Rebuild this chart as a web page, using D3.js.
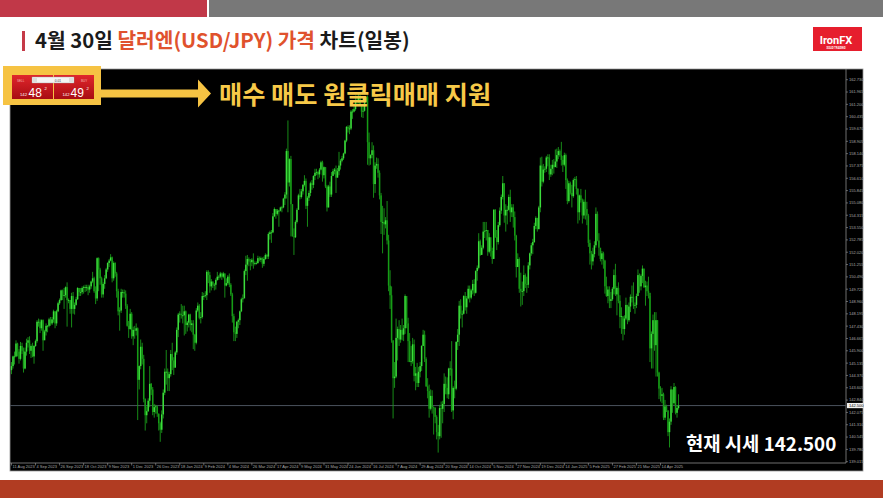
<!DOCTYPE html>
<html><head><meta charset="utf-8">
<script src="https://cdn.jsdelivr.net/npm/d3@7"></script>
<style>body{margin:0;background:#fff;} svg{display:block}</style>
</head><body><svg id="c" width="883" height="498"></svg>
<script>
// USD/JPY daily, 11 Aug 2023 .. 30 Apr 2025 (one row per week)
const firstOpen = 144.70;
const closes = [
144.95,
145.55,145.55,146.35,145.85,145.40,
146.20,145.90,144.80,145.85,146.40,
146.55,145.90,146.20,145.55,146.20,
146.50,147.70,147.70,147.30,147.80,
146.55,147.10,147.45,147.45,147.85,
147.60,147.85,148.35,147.60,148.35,
148.85,149.05,149.65,149.30,149.35,
149.85,149.05,149.05,148.50,149.30,
148.50,148.75,149.10,149.80,149.55,
149.55,149.80,149.85,149.85,149.85,
149.70,149.90,150.20,150.40,149.60,
149.15,151.65,150.95,150.40,149.40,
150.05,150.40,150.95,151.35,151.50,
151.70,150.40,151.35,150.70,149.60,
148.35,148.40,149.55,149.55,149.45,
148.70,147.45,147.25,148.20,146.80,
147.20,147.15,147.30,144.10,144.95,
146.15,145.40,142.90,141.90,142.15,
142.80,143.85,143.50,142.10,142.40,
142.45,142.00,141.40,141.00,
141.95,143.30,144.60,144.60,
144.20,144.45,145.70,145.30,144.85,
145.80,147.20,148.15,148.20,148.10,
148.10,148.35,147.50,147.65,148.15,
147.50,147.60,146.90,146.40,148.40,
148.70,147.95,148.00,149.30,149.30,
149.35,150.80,150.60,149.90,150.20,
150.00,150.00,150.30,150.50,150.50,
150.70,150.50,150.70,149.95,150.10,
150.50,150.00,149.40,148.05,147.05,
146.95,147.70,147.80,148.35,149.10,
149.15,150.85,151.25,151.60,151.45,
151.40,151.55,151.30,151.35,151.35,
151.65,151.55,151.65,151.30,151.60,
151.85,151.75,153.15,153.25,153.25,
154.25,154.70,154.40,154.60,154.60,
154.80,154.80,155.35,155.60,158.30,
156.35,157.80,155.00,153.00,152.95,
153.90,154.65,155.55,155.45,155.80,
156.20,156.45,154.90,155.40,155.70,
156.30,156.20,156.75,156.95,157.00,
156.85,157.15,157.60,156.80,157.30,
156.10,154.80,156.10,155.60,156.75,
157.05,157.15,156.65,157.05,157.40,
157.70,157.85,158.15,158.95,159.80,
159.70,159.70,160.75,160.75,160.90,
161.45,161.45,161.70,161.20,160.75,
160.80,161.35,161.65,158.85,157.85,
158.05,158.35,156.25,157.40,157.50,
156.95,155.55,153.90,153.90,153.75,
154.00,152.75,149.95,149.35,146.55,
144.20,144.30,146.70,147.25,146.60,
147.20,146.90,147.30,149.30,147.60,
146.50,145.20,145.25,146.30,144.35,
144.50,143.90,144.60,144.95,146.20,
146.90,145.40,143.70,143.40,142.30,
143.10,142.40,142.35,141.80,140.85,
140.60,142.35,142.30,142.60,143.85,
143.60,143.20,144.80,144.80,142.20,
143.60,143.55,146.45,146.90,148.70,
148.20,148.20,149.30,148.60,149.15,
149.75,149.20,149.65,150.05,149.50,
150.85,151.05,152.70,151.85,152.30,
153.30,153.35,153.40,152.05,152.95,
152.10,151.60,154.65,152.95,152.65,
153.70,154.60,155.45,156.30,154.30,
154.65,154.65,155.45,154.50,154.80,
154.20,153.05,151.10,151.60,149.75,
149.60,149.60,150.60,150.05,150.00,
151.20,151.95,152.45,152.65,153.65,
154.15,153.45,154.80,157.40,156.40,
157.15,157.20,157.90,157.90,
156.85,157.20,157.45,157.30,
157.65,158.05,158.30,158.05,157.75,
157.45,158.05,156.50,155.20,156.30,
155.70,155.50,156.50,156.55,155.95,
154.50,155.55,155.25,154.30,155.15,
154.70,154.30,152.60,151.95,151.45,
151.90,152.45,154.40,152.75,152.30,
151.60,151.95,151.50,149.90,149.30,
149.70,149.00,149.10,149.75,150.60,
149.40,149.80,149.00,148.00,148.05,
147.25,147.90,148.75,147.80,148.65,
149.25,149.25,148.70,148.75,149.30,
150.60,149.90,150.55,151.00,149.85,
149.95,149.60,149.50,146.05,146.95,
147.80,146.25,147.80,144.55,143.55,
143.10,143.20,141.75,142.45,142.20,
140.85,141.50,143.50,142.65,143.65,
142.05,142.35,142.50
];
const highs = [
145.20,
145.60,145.85,146.55,146.40,146.00,
146.45,146.40,146.10,146.10,146.65,
146.75,146.80,146.30,146.40,146.25,
146.60,147.80,147.90,147.85,147.85,
147.85,147.20,147.60,147.50,147.95,
148.00,148.00,148.45,148.35,148.45,
148.95,149.15,149.70,149.70,149.80,
149.90,150.15,149.15,149.05,149.50,
149.55,148.90,149.25,149.85,149.80,
149.80,149.90,149.95,150.00,150.00,
150.00,150.00,150.25,150.80,150.50,
149.90,151.70,151.70,151.05,150.50,
150.15,150.60,151.05,151.40,151.60,
151.90,151.75,151.45,151.40,150.80,
149.75,148.60,149.75,149.70,149.70,
149.65,148.80,147.75,148.50,148.30,
147.40,147.45,147.60,147.35,145.00,
146.60,146.40,145.65,142.95,142.45,
142.95,144.95,143.90,143.65,142.60,
142.55,142.50,142.00,141.50,
142.20,143.50,144.80,145.95,
144.80,144.60,145.95,146.40,145.50,
145.90,147.35,148.25,148.35,148.80,
148.70,148.70,148.40,147.75,148.20,
148.20,147.80,147.80,146.95,148.55,
148.90,148.80,148.30,149.55,149.50,
149.60,150.90,150.90,150.80,150.35,
150.20,150.10,150.40,150.80,150.60,
150.80,150.75,150.80,150.70,150.40,
150.60,150.70,150.10,149.50,148.20,
147.40,147.75,147.90,148.40,149.20,
149.40,150.95,151.80,151.85,151.70,
151.60,151.65,151.95,151.45,151.45,
151.80,151.75,151.75,151.70,151.75,
151.95,151.90,153.25,153.35,153.40,
154.45,154.80,154.70,154.70,154.65,
154.85,154.90,155.40,155.75,158.45,
160.20,157.85,158.00,155.00,153.50,
154.00,154.75,155.65,155.95,155.95,
156.25,156.80,156.60,155.50,155.85,
156.40,156.50,156.80,157.20,157.20,
157.05,157.25,157.70,157.70,157.35,
157.30,156.20,156.20,156.40,157.00,
157.20,157.25,157.40,157.25,158.25,
157.80,158.00,158.20,159.00,159.85,
159.90,159.90,160.85,160.90,161.25,
161.75,161.75,161.95,161.80,161.20,
161.15,161.40,161.70,161.75,159.45,
158.10,158.85,158.65,157.60,157.90,
157.85,157.10,155.70,154.90,154.75,
154.20,155.20,153.10,150.90,149.90,
146.55,145.20,147.90,147.40,147.80,
147.50,147.90,147.50,149.40,149.15,
147.95,147.00,146.20,146.70,146.60,
144.90,145.15,144.90,145.20,146.25,
147.20,147.15,145.50,144.20,143.80,
143.50,143.45,142.45,142.40,141.90,
141.30,142.55,142.75,142.80,144.50,
144.30,144.25,144.85,145.25,146.50,
143.70,144.05,146.50,147.25,149.00,
149.10,148.40,149.35,149.55,149.30,
149.95,149.95,149.75,150.30,150.35,
150.90,151.20,153.20,152.80,152.45,
153.90,153.90,153.90,153.40,153.20,
152.40,152.30,154.70,154.70,153.40,
153.90,154.80,155.60,156.75,156.30,
155.00,154.90,155.60,155.90,155.00,
155.00,154.55,153.10,151.95,151.70,
150.75,150.20,151.20,150.70,150.50,
151.40,152.00,152.60,152.85,153.85,
154.25,154.15,154.90,157.90,157.95,
157.50,157.35,158.00,158.10,
158.10,157.45,157.75,157.80,
158.40,158.45,158.55,158.40,158.87,
158.00,158.20,158.15,156.60,156.45,
156.40,156.20,156.60,156.70,156.75,
156.00,155.60,155.95,155.35,155.30,
155.90,155.15,154.40,152.80,152.10,
152.30,152.70,154.80,154.55,153.20,
152.00,152.10,152.05,151.55,150.50,
149.90,149.90,149.55,149.85,150.95,
151.30,149.90,150.15,149.35,148.60,
147.90,148.10,149.20,148.75,148.90,
149.40,149.95,150.15,148.90,149.45,
150.95,150.70,150.65,151.20,151.00,
150.25,150.20,150.50,149.30,147.10,
148.15,148.30,148.30,147.80,144.60,
143.70,143.60,143.30,142.85,142.55,
142.20,141.70,143.70,143.40,143.90,
143.70,142.50,143.20
];
const lows = [
144.45,
144.80,145.05,145.50,145.55,145.10,
145.30,145.70,144.55,144.75,145.60,
146.10,145.70,145.45,145.50,145.10,
146.15,146.40,147.40,147.00,147.15,
145.90,146.60,146.85,147.05,147.35,
147.45,147.50,147.65,147.30,147.45,
148.30,148.75,149.00,149.05,148.50,
149.20,147.40,148.85,148.20,147.35,
148.20,148.15,148.70,149.05,149.30,
149.30,149.40,149.45,149.55,149.60,
149.35,149.50,149.75,150.10,149.50,
148.80,149.00,149.60,150.00,149.20,
149.20,149.75,150.35,150.80,151.10,
151.45,150.15,150.25,150.50,149.20,
148.10,147.15,148.25,149.20,149.20,
148.50,147.40,146.70,147.20,146.65,
146.25,146.65,146.85,141.60,143.50,
144.75,145.05,142.70,140.95,141.40,
142.10,142.40,143.15,141.90,141.75,
142.00,141.80,140.95,140.25,
140.80,141.70,143.15,143.80,
143.40,143.40,144.30,144.70,144.40,
144.95,145.65,146.75,147.65,147.90,
147.60,146.85,146.95,147.10,147.35,
147.15,147.05,146.00,145.90,146.30,
148.30,147.85,147.60,147.90,149.05,
149.20,149.05,150.10,149.50,149.65,
149.80,149.65,149.70,150.25,150.30,
150.40,150.30,150.40,149.20,149.90,
150.00,149.85,149.30,147.65,146.50,
146.50,146.70,147.30,147.50,148.30,
148.90,149.30,150.60,150.25,151.15,
150.90,151.15,151.00,151.20,151.25,
151.30,151.45,151.40,151.05,151.15,
151.55,151.60,151.60,152.80,152.60,
153.20,154.20,154.10,154.30,153.60,
154.55,154.50,154.75,154.95,155.35,
154.50,156.10,153.00,153.00,151.85,
152.90,153.80,154.70,155.30,155.35,
155.60,156.10,154.70,153.60,155.20,
155.50,155.90,156.00,156.50,156.80,
156.55,156.65,157.10,156.40,156.60,
156.00,154.55,154.80,155.45,155.45,
156.80,156.85,155.70,156.65,156.80,
157.15,157.60,157.75,158.10,158.85,
159.45,159.35,159.60,160.30,160.70,
160.80,161.15,161.25,161.15,160.40,
160.35,160.75,161.30,157.45,157.40,
157.45,157.85,155.40,155.70,157.20,
156.65,155.30,153.15,151.95,153.10,
153.50,152.50,149.60,148.50,146.40,
141.70,143.60,144.20,145.30,146.20,
146.40,146.55,146.50,146.95,147.30,
145.20,145.20,144.95,145.10,144.00,
143.45,143.65,143.65,144.25,144.65,
146.20,145.20,143.65,142.95,141.75,
142.20,142.00,140.70,141.40,140.40,
139.58,140.40,140.50,141.40,142.10,
143.20,142.95,142.90,144.35,142.10,
141.65,142.95,143.45,145.95,146.20,
147.90,147.35,148.15,148.40,148.20,
149.10,148.90,149.10,149.40,149.30,
149.45,150.25,150.95,151.80,151.90,
152.20,152.90,152.75,151.80,151.95,
151.75,151.30,151.65,152.90,152.15,
152.50,153.60,154.40,155.30,153.85,
153.30,153.75,154.60,153.90,154.20,
153.55,152.75,150.45,151.10,149.50,
148.65,148.75,149.30,149.80,149.50,
149.80,150.95,151.80,151.90,152.60,
153.45,153.30,153.45,154.50,156.10,
156.30,156.95,157.00,157.35,
156.50,156.70,156.80,156.90,
157.35,157.25,157.80,157.95,157.40,
157.00,157.35,155.95,155.00,155.10,
155.60,154.80,155.40,156.10,155.60,
153.80,154.00,155.10,153.80,154.10,
154.05,153.70,152.35,151.25,150.95,
151.20,151.70,152.30,152.70,151.80,
151.45,151.25,151.00,149.45,149.25,
148.85,148.55,148.55,149.00,149.40,
149.30,148.10,148.85,147.30,146.95,
146.55,146.90,147.80,147.55,147.70,
148.30,148.90,148.50,148.20,148.55,
149.50,149.50,149.65,150.10,149.80,
148.70,149.30,149.15,145.20,144.80,
144.80,145.90,144.30,144.30,142.90,
142.75,142.65,141.60,141.60,142.10,
140.60,139.90,141.30,142.05,142.55,
141.95,141.75,142.25
];
const priceTicks = ["162.730","161.965","161.200","160.435","159.670","158.905","158.140","157.375","156.610","155.845","155.080","154.315","153.550","152.785","152.020","151.255","150.490","149.725","148.960","148.195","147.430","146.665","145.900","145.135","144.370","143.605","142.840","142.075","141.310","140.545","139.780","139.015"];
const timeLabels = ["11 Aug 2023","4 Sep 2023","26 Sep 2023","18 Oct 2023","9 Nov 2023","1 Dec 2023","26 Dec 2023","18 Jan 2024","9 Feb 2024","4 Mar 2024","26 Mar 2024","17 Apr 2024","9 May 2024","31 May 2024","24 Jun 2024","16 Jul 2024","7 Aug 2024","29 Aug 2024","20 Sep 2024","14 Oct 2024","5 Nov 2024","27 Nov 2024","19 Dec 2024","14 Jan 2025","5 Feb 2025","27 Feb 2025","21 Mar 2025","14 Apr 2025"];
const timeLabelStep = 16;
const currentPrice = 142.500;
const sellQuote = ["142","48","2"];
const buyQuote = ["142","49","2"];
const lotSize = "0.01";

const svg = d3.select("#c");
const KR = "'Noto Sans CJK KR','Noto Sans',sans-serif";

// top bars
svg.append("rect").attr("x",0).attr("y",0).attr("width",207).attr("height",17).attr("fill","#c13848");
svg.append("rect").attr("x",209).attr("y",0).attr("width",674).attr("height",17).attr("fill","#787878");

// title
svg.append("rect").attr("x",22).attr("y",31).attr("width",3).attr("height",20).attr("fill","#c53a48");
const t = svg.append("text").attr("x",35).attr("y",48).attr("font-family",KR).attr("font-weight",700).attr("font-size",20.3).attr("fill","#1a1a1a");
t.append("tspan").text("4월 30일 ");
t.append("tspan").attr("fill","#e0522d").text("달러엔(USD/JPY) 가격");
t.append("tspan").text(" 차트(일봉)");

// logo
svg.append("rect").attr("x",813).attr("y",27).attr("width",49).attr("height",24).attr("fill","#e61e2d");
svg.append("text").attr("x",836).attr("y",43.5).attr("text-anchor","middle").attr("font-family","Roboto,sans-serif").attr("font-weight",700).attr("font-size",11).attr("fill","#fff").text("IronFX");
svg.append("text").attr("x",836).attr("y",48.5).attr("text-anchor","middle").attr("font-family","Roboto,sans-serif").attr("font-weight",700).attr("font-size",2.6).attr("fill","#fff").text("SOLID TRADING");

// chart frame
const X0 = 10, X1 = 846, XR = 863, Y0 = 69, Y1 = 463, YB = 471;
svg.append("rect").attr("x",X0).attr("y",Y0).attr("width",XR-X0).attr("height",YB-Y0).attr("fill","#000").attr("stroke","#9a9a9a").attr("stroke-width",0.8);
svg.append("line").attr("x1",X1).attr("x2",X1).attr("y1",Y0).attr("y2",Y1).attr("stroke","#8a8a8a").attr("stroke-width",0.8);
svg.append("line").attr("x1",X0).attr("x2",X1).attr("y1",Y1).attr("y2",Y1).attr("stroke","#8a8a8a").attr("stroke-width",0.8);

const y = d3.scaleLinear().domain([+priceTicks[priceTicks.length-1], +priceTicks[0]]).range([461.7, 79.7]);
const x = d3.scaleLinear().domain([0, timeLabelStep*(timeLabels.length-1)]).range([11.5, 660.5]);

svg.append("clipPath").attr("id","clip").append("rect").attr("x",X0).attr("y",Y0).attr("width",X1-X0).attr("height",Y1-Y0);
const plot = svg.append("g").attr("clip-path","url(#clip)");

// current price line
plot.append("line").attr("x1",X0).attr("x2",X1).attr("y1",y(currentPrice)).attr("y2",y(currentPrice)).attr("stroke","#4a525c").attr("stroke-width",1);

const bars = closes.map((c,i)=>({i, o: i? closes[i-1] : firstOpen, c, h: highs[i], l: lows[i]}));
plot.selectAll("line.wick").data(bars).join("line").attr("class","wick")
  .attr("x1",d=>x(d.i)).attr("x2",d=>x(d.i)).attr("y1",d=>y(d.h)).attr("y2",d=>y(d.l))
  .attr("stroke","#1a9a1a").attr("stroke-width",0.9);
plot.selectAll("rect.body").data(bars).join("rect").attr("class","body")
  .attr("x",d=>x(d.i)-0.75).attr("width",1.5)
  .attr("y",d=>y(Math.max(d.o,d.c))).attr("height",d=>Math.max(0.8, Math.abs(y(d.o)-y(d.c))))
  .attr("fill",d=>d.c>=d.o ? "#3cdc3c" : "#169c16");

// price axis
const pa = svg.append("g");
priceTicks.forEach(v=>{
  const yy = y(+v);
  pa.append("line").attr("x1",X1).attr("x2",X1+2).attr("y1",yy).attr("y2",yy).attr("stroke","#9a9a9a").attr("stroke-width",0.6);
  pa.append("text").attr("x",X1+3).attr("y",yy+1.4).attr("font-family","'Liberation Sans',Arial,sans-serif").attr("font-size",4).attr("fill","#a8a8a8").text(v);
});
pa.append("rect").attr("x",X1+1).attr("y",y(currentPrice)-2.6).attr("width",16).attr("height",5.2).attr("fill","#f0f0f0");
pa.append("text").attr("x",X1+3).attr("y",y(currentPrice)+1.4).attr("font-family","'Liberation Sans',Arial,sans-serif").attr("font-size",4).attr("fill","#000").text(currentPrice.toFixed(3));

// time axis
timeLabels.forEach((lab,k)=>{
  const xx = x(k*timeLabelStep);
  svg.append("line").attr("x1",xx).attr("x2",xx).attr("y1",Y1).attr("y2",Y1+2.5).attr("stroke","#9a9a9a").attr("stroke-width",0.6);
  svg.append("text").attr("x",xx+1).attr("y",Y1+5.2).attr("font-family","'Liberation Sans',Arial,sans-serif").attr("font-size",4).attr("fill","#a8a8a8").text(lab);
});

// yellow highlight box + one-click panel
const gold = "#f6c343";
svg.append("rect").attr("x",3).attr("y",66).attr("width",98).attr("height",39).attr("fill",gold);
const defs = svg.append("defs");
const gr = defs.append("linearGradient").attr("id","red").attr("x1",0).attr("x2",0).attr("y1",0).attr("y2",1);
gr.append("stop").attr("offset","0%").attr("stop-color","#e0262c");
gr.append("stop").attr("offset","100%").attr("stop-color","#a80c12");
svg.append("rect").attr("x",12).attr("y",75).attr("width",41).attr("height",24).attr("fill","url(#red)");
svg.append("rect").attr("x",54).attr("y",75).attr("width",40).attr("height",24).attr("fill","url(#red)");
svg.append("rect").attr("x",32).attr("y",77).attr("width",42).attr("height",6).attr("fill","#f4f4f4").attr("stroke","#999").attr("stroke-width",0.4);
svg.append("rect").attr("x",33).attr("y",78).attr("width",4).attr("height",4).attr("fill","#ddd");
svg.append("rect").attr("x",69).attr("y",78).attr("width",4).attr("height",4).attr("fill","#ddd");
svg.append("text").attr("x",61).attr("y",81.6).attr("font-family","'Liberation Sans',Arial").attr("font-size",3.2).attr("fill","#333").attr("text-anchor","end").text(lotSize);
svg.append("text").attr("x",17).attr("y",81.5).attr("font-family","'Liberation Sans',Arial").attr("font-size",3).attr("fill","#f3b8b8").text("SELL");
svg.append("text").attr("x",81).attr("y",81.5).attr("font-family","'Liberation Sans',Arial").attr("font-size",3).attr("fill","#f3b8b8").text("BUY");
function quote(q, xs){
  svg.append("text").attr("x",xs[0]).attr("y",96).attr("font-family","'Liberation Sans',Arial").attr("font-size",4.2).attr("fill","#fff").text(q[0]);
  svg.append("text").attr("x",xs[1]).attr("y",96.5).attr("font-family","'Liberation Sans',Arial").attr("font-size",12).attr("fill","#fff").text(q[1]);
  svg.append("text").attr("x",xs[2]).attr("y",90).attr("font-family","'Liberation Sans',Arial").attr("font-size",4.2).attr("fill","#fff").text(q[2]);
}
quote(sellQuote,[20,28.5,44.5]);
quote(buyQuote,[62.5,70.5,86.5]);

// arrow
svg.append("path").attr("d","M101,89.5 L198,89.5 L198,79.5 L211,93.5 L198,107.5 L198,97.5 L101,97.5 Z").attr("fill",gold);
svg.append("text").attr("x",219).attr("y",104).attr("font-family",KR).attr("font-weight",700).attr("font-size",25.2).attr("fill","#f7c948").text("매수 매도 원클릭매매 지원");

// current price caption
svg.append("text").attr("x",686).attr("y",451).attr("font-family",KR).attr("font-weight",700).attr("font-size",18.8).attr("fill","#fff").text("현재 시세 " + currentPrice.toFixed(3));

// footer
svg.append("rect").attr("x",0).attr("y",480).attr("width",883).attr("height",18).attr("fill","#b13c22");
</script></body></html>
